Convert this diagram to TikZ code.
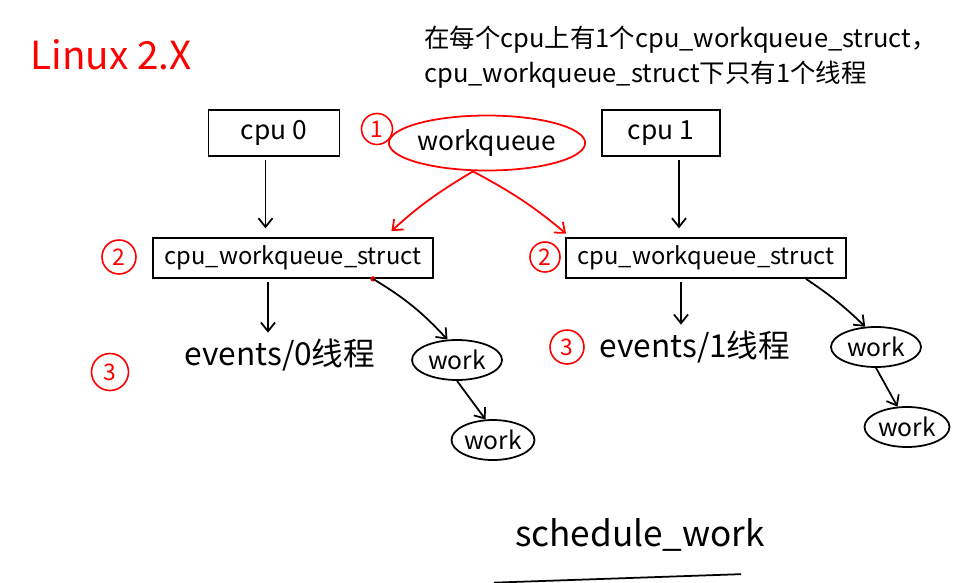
\documentclass[tikz,border=0pt]{standalone}
\usepackage{fontspec}
\setmainfont{Noto Sans CJK SC}
\usepackage{xcolor}
\usepackage{tikz}
\usetikzlibrary{shapes.geometric, arrows.meta, positioning, calc}

\begin{document}
\begin{tikzpicture}[
    x=0.02cm, y=-0.02cm,
    >={Straight Barb[length=5pt,width=8pt]},
    box/.style={draw, line width=1pt, minimum width=2.5cm, minimum height=0.92cm, align=center, font=\fontsize{15}{18}\selectfont},
    qbox/.style={draw, line width=1pt, minimum width=5.6cm, minimum height=0.8cm, font=\fontsize{13.5}{16}\selectfont},
    work/.style={draw, ellipse, line width=1pt, minimum width=1.8cm, minimum height=0.8cm, inner sep=0pt, font=\fontsize{14}{16}\selectfont},
    num/.style={draw=red, text=red, circle, line width=0.9pt, inner sep=1pt, minimum size=0.68cm, font=\fontsize{13}{15}\selectfont},
    note/.style={font=\fontsize{18}{21}\selectfont},
    arr/.style={->, line width=1pt},
    redarr/.style={->, line width=1pt, red}
]
    \useasboundingbox (0,0) rectangle (973,582);

    % title and note
    \node[text=red, font=\fontsize{22}{26}\selectfont] at (111,55) (title) {Linux 2.X};
    \node[font=\fontsize{14.5}{20}\selectfont, align=left, anchor=west] at (418,57) (hint)
        {在每个cpu上有1个cpu\_workqueue\_struct，\\cpu\_workqueue\_struct下只有1个线程};

    % cpus and the workqueue
    \node[box, minimum width=2.62cm] at (274,133) (cpu0) {cpu 0};
    \node[box, minimum width=2.36cm] at (661,133) (cpu1) {cpu 1};
    \node[draw=red, ellipse, line width=1pt, minimum width=3.4cm, minimum height=1.1cm, inner sep=0pt,
          font=\fontsize{15}{18}\selectfont] at (487,143) (wq) {workqueue};
    \node[num, minimum size=0.62cm] at (377,129) (n1) {1};

    % per-cpu structs
    \node[qbox] at (293,258) (cwq0) {cpu\_workqueue\_struct};
    \node[qbox] at (706,258) (cwq1) {cpu\_workqueue\_struct};
    \node[num] at (119,257) (n2a) {2};
    \node[num, minimum size=0.6cm] at (545,257) (n2b) {2};

    % threads
    \node[note] at (280,355) (ev0) {events/0线程};
    \node[note] at (695,347) (ev1) {events/1线程};
    \node[num, minimum size=0.74cm] at (110,372) (n3a) {3};
    \node[num] at (567,347) (n3b) {3};

    % works
    \node[work] at (457,360) (w0a) {work};
    \node[work, minimum width=1.66cm] at (493,440) (w0b) {work};
    \node[work] at (876,347) (w1a) {work};
    \node[work, minimum width=1.7cm] at (907,427) (w1b) {work};

    \node[font=\fontsize{20}{24}\selectfont] at (640,535) (sched) {schedule\_work};
    \draw[line width=1pt] ([shift={(-0.3cm,-0.5cm)}]sched.south west) -- ([shift={(-0.6cm,-0.33cm)}]sched.south east);

    % arrows
    \draw[arr, shorten <=2pt, shorten >=5pt] ([xshift=-0.17cm]cpu0.south) -- ([xshift=-0.17cm]cpu0.south |- cwq0.north);
    \draw[arr, shorten <=2pt, shorten >=5pt] ([xshift=0.36cm]cpu1.south) -- ([xshift=0.36cm]cpu1.south |- cwq1.north);
    \draw[redarr, shorten >=5pt] ([xshift=-0.28cm]wq.south) to[bend right=6] ([xshift=1.84cm]cwq0.north);
    \draw[redarr, shorten >=3pt] ([xshift=-0.28cm]wq.south) to[bend left=6] ([xshift=0.1cm]cwq1.north west);
    \draw[arr, shorten <=2pt] ([xshift=-0.5cm]cwq0.south) -- ([xshift=-0.5cm]cwq0.south |- ev0.north);
    \draw[arr, shorten <=2pt] ([xshift=-0.5cm]cwq1.south) -- ([xshift=-0.5cm]cwq1.south |- ev1.north);
    \fill[red] ([xshift=1.6cm]cwq0.south) circle (1.5pt);
    \draw[arr] ([xshift=1.6cm]cwq0.south) to[bend left=8] (w0a.115);
    \draw[arr] ([xshift=2cm]cwq1.south) to[bend left=5] (w1a.118);
    \draw[arr] (w0a.south) -- (w0b.110);
    \draw[arr] (w1a.south) -- (w1b.115);
\end{tikzpicture}
\end{document}
